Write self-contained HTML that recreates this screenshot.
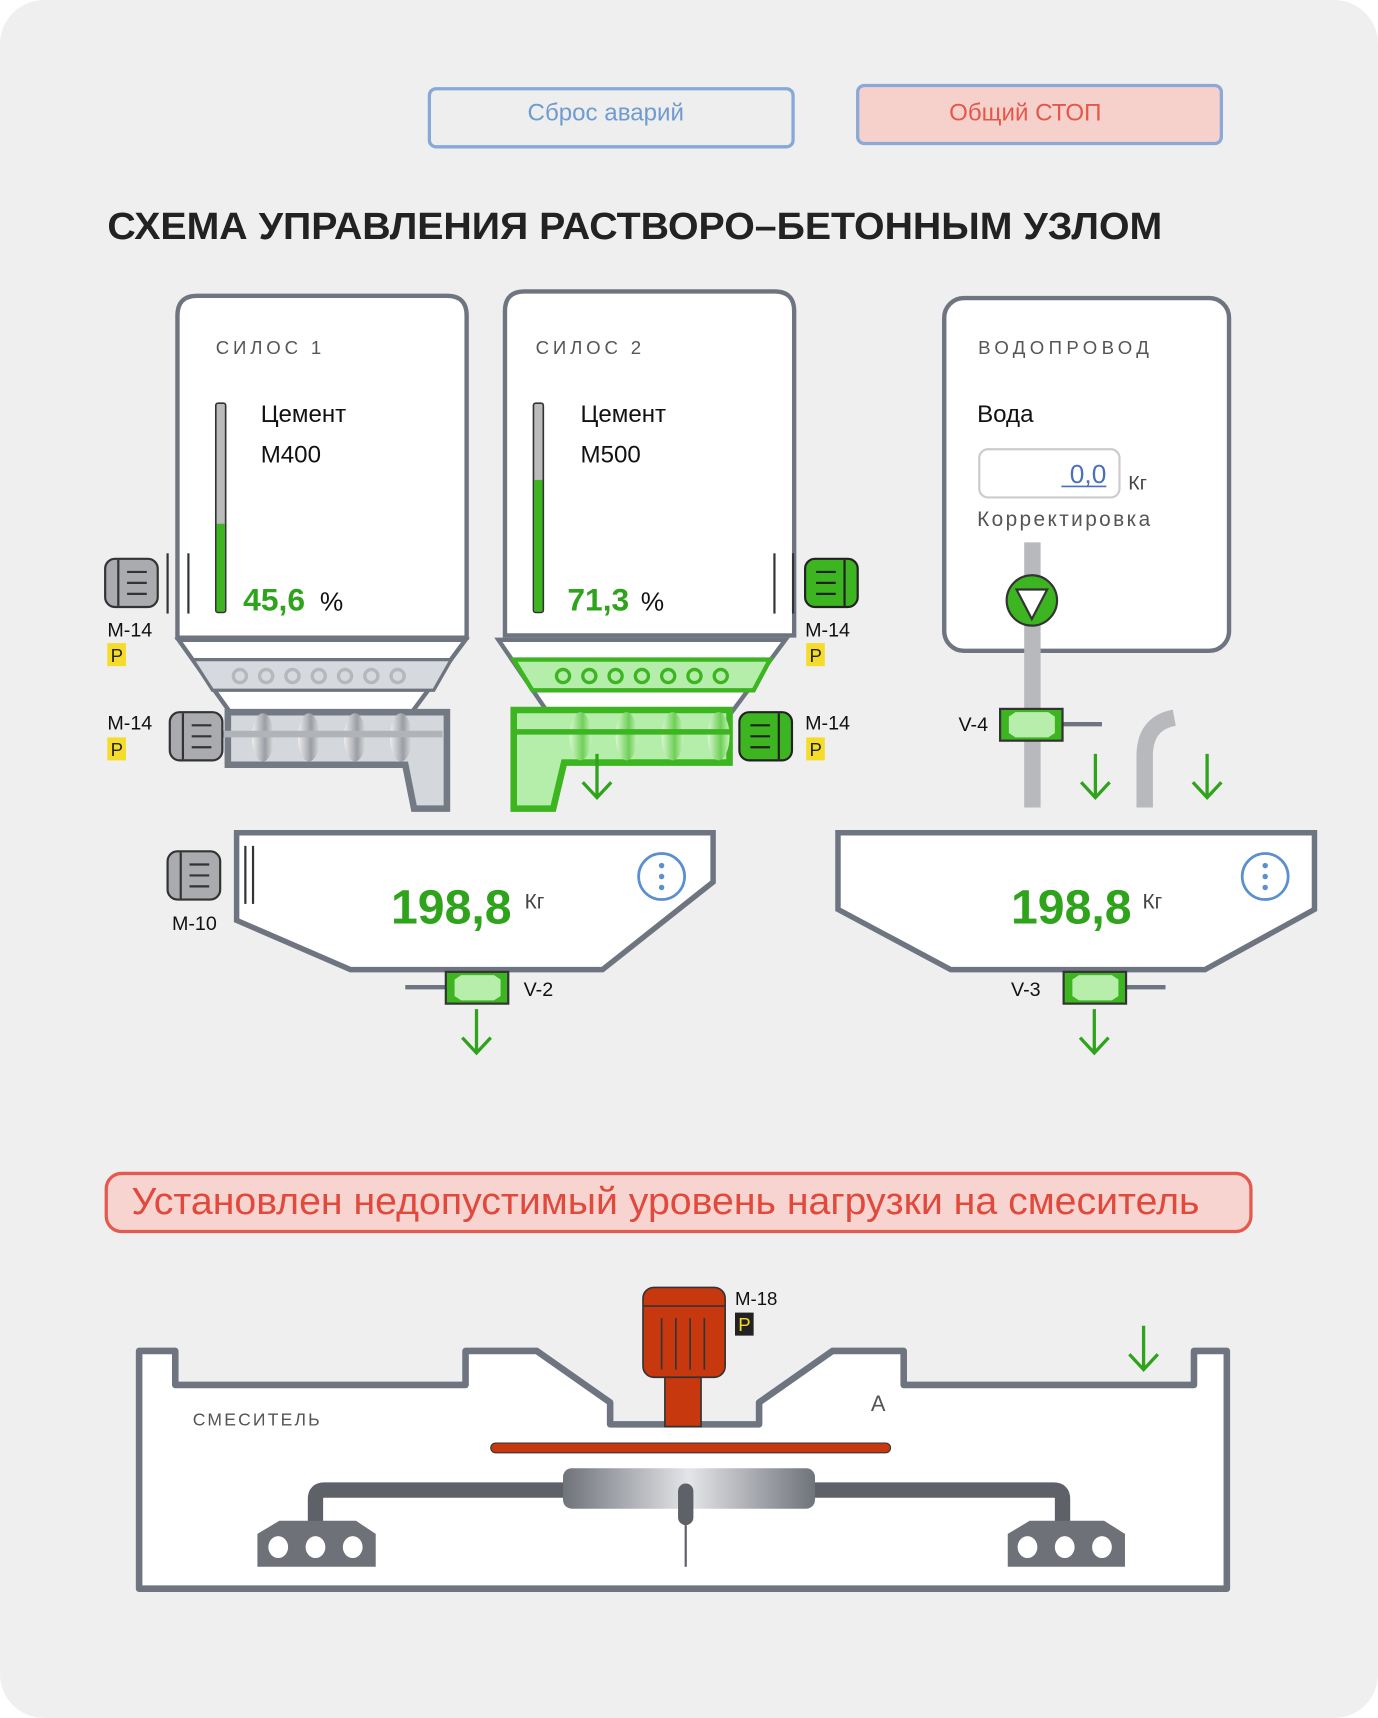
<!DOCTYPE html>
<html><head><meta charset="utf-8"><style>
html,body{margin:0;padding:0;background:#fff}
svg{display:block}
text{font-family:"Liberation Sans",sans-serif}
</style></head><body>
<svg width="1378" height="1718" viewBox="0 0 1258 1568" preserveAspectRatio="none" xmlns="http://www.w3.org/2000/svg">
<defs>
<linearGradient id="cyl" x1="0" x2="1" y1="0" y2="0">
<stop offset="0" stop-color="#6f737a"/><stop offset="0.5" stop-color="#e4e5e8"/><stop offset="1" stop-color="#6f737a"/>
</linearGradient>
<linearGradient id="scr" x1="0" x2="1"><stop offset="0" stop-color="#eee"/><stop offset="0.6" stop-color="#9a9ea5"/><stop offset="1" stop-color="#ddd"/></linearGradient>
<linearGradient id="scrg" x1="0" x2="1"><stop offset="0" stop-color="#d8f7d0"/><stop offset="0.6" stop-color="#6fcf58"/><stop offset="1" stop-color="#c8f2bd"/></linearGradient>
<g id="motorG">
<rect x="0" y="0" width="48" height="44" rx="9" fill="#a9abae" stroke="#333" stroke-width="2"/>
<line x1="12" y1="1" x2="12" y2="43" stroke="#333" stroke-width="2"/>
<line x1="20" y1="12" x2="38" y2="12" stroke="#333" stroke-width="2"/>
<line x1="20" y1="22" x2="38" y2="22" stroke="#333" stroke-width="2"/>
<line x1="20" y1="32" x2="38" y2="32" stroke="#333" stroke-width="2"/>
</g>
<g id="motorGr">
<rect x="0" y="0" width="48" height="44" rx="9" fill="#3cb521" stroke="#222" stroke-width="2"/>
<line x1="36" y1="1" x2="36" y2="43" stroke="#222" stroke-width="2"/>
<line x1="10" y1="12" x2="28" y2="12" stroke="#222" stroke-width="2"/>
<line x1="10" y1="22" x2="28" y2="22" stroke="#222" stroke-width="2"/>
<line x1="10" y1="32" x2="28" y2="32" stroke="#222" stroke-width="2"/>
</g>
<g id="valve">
<rect x="0" y="0" width="57" height="29" fill="#3cb521" stroke="#333" stroke-width="2"/>
<polygon points="8,7 14,3 44,3 50,7 50,22 44,26 14,26 8,22" fill="#b8eeab"/>
</g>
<g id="arrow"><path d="M0,0 V38 M-13,26 L0,40 L13,26" fill="none" stroke="#2ea31b" stroke-width="3"/></g>
<g id="P"><rect x="0" y="0" width="17" height="21" fill="#f5dc2a"/><text x="3" y="17" font-size="17" fill="#222">P</text></g>
</defs>

<rect x="0" y="0" width="1258" height="1568" rx="40" fill="#efefef"/>

<rect x="392" y="81" width="332" height="53" rx="6" fill="#eeeeee" stroke="#86a9d8" stroke-width="3"/>
<text x="553" y="110" font-size="22" fill="#6f9bd0" text-anchor="middle">Сброс аварий</text>
<rect x="783" y="78" width="332" height="53" rx="6" fill="#f6d1cc" stroke="#8aa8d8" stroke-width="3"/>
<text x="936" y="110" font-size="22" fill="#e4574a" text-anchor="middle">Общий СТОП</text>

<text x="98" y="218" font-size="35" font-weight="bold" fill="#222" textLength="963" lengthAdjust="spacingAndGlyphs">СХЕМА УПРАВЛЕНИЯ РАСТВОРО–БЕТОННЫМ УЗЛОМ</text>

<path d="M162,582 V288 Q162,270 180,270 H408 Q426,270 426,288 V582 Z" fill="#fff" stroke="#6e7580" stroke-width="4"/>
<text x="197" y="323" font-size="17" fill="#555" letter-spacing="3.5">СИЛОС 1</text>
<text x="238" y="385" font-size="22" fill="#111">Цемент</text>
<text x="238" y="422" font-size="22" fill="#111">М400</text>
<rect x="197" y="368" width="9" height="191" rx="2" fill="#bbb" stroke="#333" stroke-width="1.5"/>
<rect x="197.7" y="478" width="7.6" height="80" fill="#3cb521"/>
<text x="222" y="557" font-size="29" font-weight="600" fill="#2ea31b">45,6</text><text x="292" y="557" font-size="24" fill="#111">%</text>
<polygon points="163,584 425,584 376,650 210,650" fill="#fff" stroke="#6e7580" stroke-width="4"/>
<polygon points="176,602 412,602 396,630 194,630" fill="#d6d9de" stroke="#6e7580" stroke-width="3"/>
<g fill="none" stroke="#b5b7ba" stroke-width="3">
<circle cx="219" cy="617" r="6"/><circle cx="243" cy="617" r="6"/><circle cx="267" cy="617" r="6"/><circle cx="291" cy="617" r="6"/><circle cx="315" cy="617" r="6"/><circle cx="339" cy="617" r="6"/><circle cx="363" cy="617" r="6"/></g>
<path d="M208,650 H408 V738 H378 L370,698 H208 Z" fill="#d4d7dc" stroke="#737a83" stroke-width="6"/>
<g fill="url(#scr)"><ellipse cx="240" cy="673" rx="10" ry="22"/><ellipse cx="282" cy="673" rx="10" ry="22"/><ellipse cx="324" cy="673" rx="10" ry="22"/><ellipse cx="366" cy="673" rx="10" ry="22"/></g>
<line x1="200" y1="670" x2="404" y2="670" stroke="#b0b3b8" stroke-width="6"/>
<use href="#motorG" x="96" y="510"/>
<line x1="153" y1="505" x2="153" y2="560" stroke="#333" stroke-width="2"/>
<line x1="172" y1="505" x2="172" y2="560" stroke="#333" stroke-width="2"/>
<text x="98" y="581" font-size="18" fill="#111">М-14</text><use href="#P" x="98" y="587"/>
<use href="#motorG" x="155" y="650"/>
<text x="98" y="666" font-size="18" fill="#111">М-14</text><use href="#P" x="98" y="673"/>

<path d="M461,580 V284 Q461,266 479,266 H707 Q725,266 725,284 V580 Z" fill="#fff" stroke="#6e7580" stroke-width="4"/>
<text x="489" y="323" font-size="17" fill="#555" letter-spacing="3.5">СИЛОС 2</text>
<text x="530" y="385" font-size="22" fill="#111">Цемент</text>
<text x="530" y="422" font-size="22" fill="#111">М500</text>
<rect x="487" y="368" width="9" height="191" rx="2" fill="#bbb" stroke="#333" stroke-width="1.5"/>
<rect x="487.7" y="438" width="7.6" height="120" fill="#3cb521"/>
<text x="518" y="557" font-size="29" font-weight="600" fill="#2ea31b">71,3</text><text x="585" y="557" font-size="24" fill="#111">%</text>
<polygon points="455,584 717,584 668,650 500,650" fill="#fff" stroke="#6e7580" stroke-width="4"/>
<polygon points="469,602 703,602 688,630 486,630" fill="#b5eeaa" stroke="#3cb521" stroke-width="4"/>
<g fill="none" stroke="#3cb521" stroke-width="3">
<circle cx="514" cy="617" r="6"/><circle cx="538" cy="617" r="6"/><circle cx="562" cy="617" r="6"/><circle cx="586" cy="617" r="6"/><circle cx="610" cy="617" r="6"/><circle cx="634" cy="617" r="6"/><circle cx="658" cy="617" r="6"/></g>
<path d="M469,648 H666 V696 H515 L505,738 H469 Z" fill="#b5eeaa" stroke="#3cb521" stroke-width="6"/>
<g fill="url(#scrg)"><ellipse cx="530" cy="672" rx="10" ry="22"/><ellipse cx="572" cy="672" rx="10" ry="22"/><ellipse cx="614" cy="672" rx="10" ry="22"/><ellipse cx="656" cy="672" rx="10" ry="22"/></g>
<line x1="470" y1="668" x2="666" y2="668" stroke="#3cb521" stroke-width="5"/>
<use href="#arrow" x="545" y="688"/>
<use href="#motorGr" x="735" y="510"/>
<line x1="707" y1="505" x2="707" y2="560" stroke="#333" stroke-width="2"/>
<line x1="724" y1="505" x2="724" y2="560" stroke="#333" stroke-width="2"/>
<text x="735" y="581" font-size="18" fill="#111">М-14</text><use href="#P" x="736" y="587"/>
<use href="#motorGr" x="675" y="650"/>
<text x="735" y="666" font-size="18" fill="#111">М-14</text><use href="#P" x="736" y="673"/>

<rect x="862" y="272" width="260" height="322" rx="18" fill="#fff" stroke="#6e7580" stroke-width="4"/>
<text x="893" y="323" font-size="17" fill="#555" letter-spacing="4">ВОДОПРОВОД</text>
<text x="892" y="385" font-size="22" fill="#111">Вода</text>
<rect x="894" y="410" width="128" height="44" rx="8" fill="#fff" stroke="#ccc" stroke-width="2"/>
<text x="1010" y="441" font-size="24" fill="#4a6fc0" text-anchor="end">0,0</text>
<line x1="969" y1="444" x2="1010" y2="444" stroke="#4a6fc0" stroke-width="1.5"/>
<text x="1030" y="447" font-size="18" fill="#444">Кг</text>
<text x="892" y="480" font-size="19" fill="#555" textLength="158" lengthAdjust="spacing">Корректировка</text>
<rect x="935" y="495" width="15" height="242" fill="#b7b9bd"/>
<circle cx="942" cy="548" r="23" fill="#3cb521" stroke="#333" stroke-width="2"/>
<polygon points="928,538 956,538 942,565" fill="#fff" stroke="#333" stroke-width="2"/>
<line x1="965" y1="661" x2="1006" y2="661" stroke="#6e7580" stroke-width="4"/>
<use href="#valve" x="913" y="647"/>
<text x="875" y="667" font-size="18" fill="#111">V-4</text>
<path d="M1045,737 V690 Q1045,660 1072,655" fill="none" stroke="#b7b9bd" stroke-width="15"/>
<use href="#arrow" x="1000" y="688"/>
<use href="#arrow" x="1102" y="688"/>

<path d="M216,760 H651 V805 L550,885 H320 L216,840 Z" fill="#fff" stroke="#6e7580" stroke-width="5"/>
<line x1="224" y1="772" x2="224" y2="825" stroke="#333" stroke-width="2"/>
<line x1="231" y1="772" x2="231" y2="825" stroke="#333" stroke-width="2"/>
<text x="412" y="843" font-size="44" font-weight="bold" fill="#2ea31b" text-anchor="middle">198,8</text>
<text x="479" y="829" font-size="19" fill="#444">Кг</text>
<circle cx="604" cy="800" r="21" fill="#fff" stroke="#5b8fd0" stroke-width="2.5"/>
<g fill="#5b8fd0"><circle cx="604" cy="790" r="2.5"/><circle cx="604" cy="800" r="2.5"/><circle cx="604" cy="810" r="2.5"/></g>
<use href="#motorG" x="153" y="777"/>
<text x="157" y="849" font-size="18" fill="#111">М-10</text>
<line x1="370" y1="901" x2="408" y2="901" stroke="#6e7580" stroke-width="4"/>
<use href="#valve" x="407" y="887"/>
<text x="478" y="909" font-size="18" fill="#111">V-2</text>
<use href="#arrow" x="435" y="921"/>

<path d="M765,760 H1200 V830 L1100,885 H868 L765,830 Z" fill="#fff" stroke="#6e7580" stroke-width="5"/>
<text x="978" y="843" font-size="44" font-weight="bold" fill="#2ea31b" text-anchor="middle">198,8</text>
<text x="1043" y="829" font-size="19" fill="#444">Кг</text>
<circle cx="1155" cy="800" r="21" fill="#fff" stroke="#5b8fd0" stroke-width="2.5"/>
<g fill="#5b8fd0"><circle cx="1155" cy="790" r="2.5"/><circle cx="1155" cy="800" r="2.5"/><circle cx="1155" cy="810" r="2.5"/></g>
<line x1="1026" y1="901" x2="1064" y2="901" stroke="#6e7580" stroke-width="4"/>
<use href="#valve" x="971" y="887"/>
<text x="923" y="909" font-size="18" fill="#111">V-3</text>
<use href="#arrow" x="999" y="921"/>

<rect x="97" y="1071" width="1045" height="53" rx="14" fill="#f7d4d0" stroke="#e45a4e" stroke-width="3"/>
<text x="120" y="1108" font-size="35" fill="#e0493b" textLength="975" lengthAdjust="spacingAndGlyphs">Установлен недопустимый уровень нагрузки на смеситель</text>

<path d="M127,1450 V1233 H160 V1264 H425 V1233 H490 L557,1280 V1300 H693 V1280 L760,1233 H825 V1264 H1090 V1233 H1120 V1450 Z" fill="#fff" stroke="#6e7580" stroke-width="6" stroke-linejoin="round"/>
<text x="176" y="1301" font-size="16" fill="#555" letter-spacing="2">СМЕСИТЕЛЬ</text>
<text x="795" y="1288" font-size="20" fill="#555">А</text>
<use href="#arrow" x="1044" y="1210"/>
<rect x="607" y="1250" width="33" height="52" fill="#c8380f" stroke="#333" stroke-width="1.5"/>
<rect x="587" y="1175" width="75" height="82" rx="10" fill="#c8380f" stroke="#333" stroke-width="1.5"/>
<line x1="587" y1="1192" x2="662" y2="1192" stroke="#333" stroke-width="1.5"/>
<g stroke="#333" stroke-width="1.5"><line x1="604" y1="1203" x2="604" y2="1250"/><line x1="617" y1="1203" x2="617" y2="1250"/><line x1="630" y1="1203" x2="630" y2="1250"/><line x1="643" y1="1203" x2="643" y2="1250"/></g>
<text x="671" y="1191" font-size="17" fill="#111">М-18</text>
<rect x="671" y="1198" width="17" height="21" fill="#222"/><text x="674" y="1215" font-size="17" fill="#f5dc2a">P</text>
<rect x="448" y="1317" width="365" height="9" rx="4.5" fill="#c8380f" stroke="#333" stroke-width="1"/>
<path d="M288,1412 V1368 Q288,1360 296,1360 H520 M740,1360 H962 Q970,1360 970,1368 V1412" fill="none" stroke="#5e6168" stroke-width="14"/>
<rect x="514" y="1340" width="230" height="37" rx="8" fill="url(#cyl)"/>
<line x1="626" y1="1390" x2="626" y2="1430" stroke="#5e6168" stroke-width="2"/>
<rect x="619" y="1354" width="14" height="38" rx="7" fill="#5e6168"/>
<polygon points="235,1400 255,1388 325,1388 343,1400 343,1430 235,1430" fill="#6e7178"/>
<g fill="#fff"><ellipse cx="254" cy="1412" rx="9" ry="10"/><ellipse cx="288" cy="1412" rx="9" ry="10"/><ellipse cx="322" cy="1412" rx="9" ry="10"/></g>
<polygon points="920,1400 940,1388 1008,1388 1027,1400 1027,1430 920,1430" fill="#6e7178"/>
<g fill="#fff"><ellipse cx="938" cy="1412" rx="9" ry="10"/><ellipse cx="972" cy="1412" rx="9" ry="10"/><ellipse cx="1006" cy="1412" rx="9" ry="10"/></g>
</svg>
</body></html>
